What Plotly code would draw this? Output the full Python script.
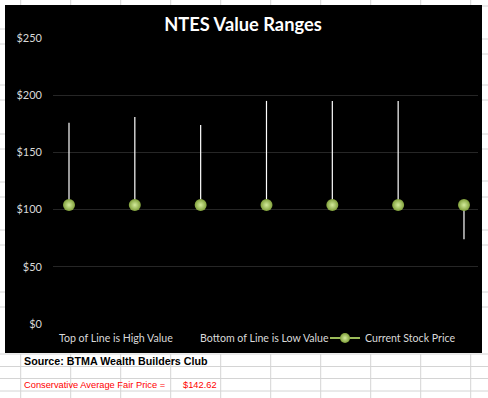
import plotly.graph_objects as go

# ---- data ----
categories = ["1", "2", "3", "4", "5", "6", "7"]
high_values = [176, 181, 174, 195, 195, 195, 98]
low_values = [110, 112, 108, 115, 115, 115, 74]
current_price = [104, 104, 104, 104, 104, 104, 104]
y_ticks = [0, 50, 100, 150, 200, 250]
y_tick_labels = ["$0", "$50", "$100", "$150", "$200", "$250"]
source_text = "Source: BTMA Wealth Builders Club"
fair_label = "Conservative Average Fair Price ="
fair_value = "$142.62"

W, H = 488, 398
L, R, T, B = 53, 478, 38, 324  # plot area in px


def px(x):
    return (x - L) / (R - L)


def py(y):
    return (B - y) / (B - T)


top = [max(a, b, c) for a, b, c in zip(high_values, low_values, current_price)]
bot = [min(a, b, c) for a, b, c in zip(high_values, low_values, current_price)]

green_edge = "#7f9f3a"
green_center = "#d4ec9c"

fig = go.Figure()

# high-low lines via error bars on an invisible trace
fig.add_trace(go.Scatter(
    x=categories, y=bot, mode="markers", marker=dict(size=0.1, color="rgba(0,0,0,0)"),
    error_y=dict(type="data", symmetric=False,
                 array=[t - b for t, b in zip(top, bot)], arrayminus=[0] * len(bot),
                 color="white", thickness=1.2, width=0),
    showlegend=False, hoverinfo="skip"))

fig.add_trace(go.Scatter(x=categories, y=high_values, mode="lines",
                         line=dict(width=0, color="rgba(0,0,0,0)"),
                         name="Top of Line is High Value", legend="legend"))
fig.add_trace(go.Scatter(x=categories, y=low_values, mode="lines",
                         line=dict(width=0, color="rgba(0,0,0,0)"),
                         name="Bottom of Line is Low Value", legend="legend2"))
fig.add_trace(go.Scatter(x=categories, y=current_price, mode="markers",
                         marker=dict(size=12, color=green_edge,
                                     gradient=dict(type="radial", color=green_center)),
                         name="Current Stock Price", showlegend=False,
                         legendgroup="price"))
# legend key for price series (line + marker, as in the original legend)
fig.add_trace(go.Scatter(x=[None], y=[None], mode="lines+markers",
                         line=dict(color="#9bbb59", width=2),
                         marker=dict(size=10, color=green_edge,
                                     gradient=dict(type="radial", color=green_center)),
                         name="Current Stock Price", legendgroup="price", legend="legend3"))

shapes = []
# black chart box
shapes.append(dict(type="rect", xref="paper", yref="paper", layer="below",
                   x0=px(5), x1=px(482), y0=py(353), y1=py(5),
                   fillcolor="black", line=dict(width=0)))
grid_col = "#d4d4d4"
# spreadsheet grid lines outside chart
for gx in [20.7 + 50 * k for k in range(10)]:
    shapes.append(dict(type="line", xref="paper", yref="paper", layer="below",
                       x0=px(gx), x1=px(gx), y0=py(354), y1=py(398),
                       line=dict(color=grid_col, width=1)))
    shapes.append(dict(type="line", xref="paper", yref="paper", layer="below",
                       x0=px(gx), x1=px(gx), y0=py(0), y1=py(5),
                       line=dict(color=grid_col, width=1)))
for gy in [354, 366.5, 378.5, 391]:
    shapes.append(dict(type="line", xref="paper", yref="paper", layer="below",
                       x0=px(0), x1=px(488), y0=py(gy), y1=py(gy),
                       line=dict(color=grid_col, width=1)))
for gy in [29, 44, 85, 100, 134, 149, 182, 197, 230, 245, 292, 307]:
    shapes.append(dict(type="line", xref="paper", yref="paper", layer="below",
                       x0=px(0), x1=px(5), y0=py(gy), y1=py(gy),
                       line=dict(color=grid_col, width=1)))
for gy in [6, 39, 54, 85, 100, 134, 149, 181, 197, 230, 245, 292, 307]:
    shapes.append(dict(type="line", xref="paper", yref="paper", layer="below",
                       x0=px(482), x1=px(488), y0=py(gy), y1=py(gy),
                       line=dict(color=grid_col, width=1)))

cell_font = "Liberation Sans, Arial"
annotations = [
    dict(text=source_text, xref="paper", yref="paper", x=px(22), y=py(361),
         xanchor="left", yanchor="middle", showarrow=False,
         font=dict(family="Liberation Sans", size=10.7, color="black", weight="bold")),
    dict(text=fair_label, xref="paper", yref="paper", x=px(22), y=py(384.5),
         xanchor="left", yanchor="middle", showarrow=False,
         font=dict(family=cell_font, size=9.3, color="#ff0000")),
    dict(text=fair_value, xref="paper", yref="paper", x=px(219), y=py(384.5),
         xanchor="right", yanchor="middle", showarrow=False,
         font=dict(family=cell_font, size=9.3, color="#ff0000")),
]

legend_common = dict(orientation="h", yanchor="middle", xanchor="left", y=py(338),
                     bgcolor="rgba(0,0,0,0)", itemwidth=30,
                     font=dict(family="Lato", size=10.6, color="#d9d9d9"))

fig.update_layout(
    width=W, height=H,
    margin=dict(l=L, r=W - R, t=T, b=H - B, pad=0),
    paper_bgcolor="white", plot_bgcolor="rgba(0,0,0,0)",
    title=dict(text="<b>NTES Value Ranges</b>", x=px(243), xref="paper", xanchor="center",
               y=1 - 25 / H, yanchor="middle",
               font=dict(family="Lato", size=18.3, color="white")),
    font=dict(family="Lato", size=11, color="#d9d9d9"),
    xaxis=dict(type="category", range=[-0.243, 6.213], showticklabels=False,
               showgrid=False, zeroline=False, showline=False, ticks=""),
    yaxis=dict(range=[0, 250], tickvals=y_ticks, ticktext=y_tick_labels,
               showgrid=True, gridcolor="#262626", gridwidth=1, zeroline=False,
               showline=False, ticks="", ticklabelstandoff=10,
               tickfont=dict(family="Lato", size=11, color="#d9d9d9")),
    legend=dict(x=px(59 - 40), **legend_common),
    legend2=dict(x=px(200 - 40), **legend_common),
    legend3=dict(x=px(365 - 40), **legend_common),
    shapes=shapes, annotations=annotations,
    showlegend=True,
)

fig.write_html("out.html")
